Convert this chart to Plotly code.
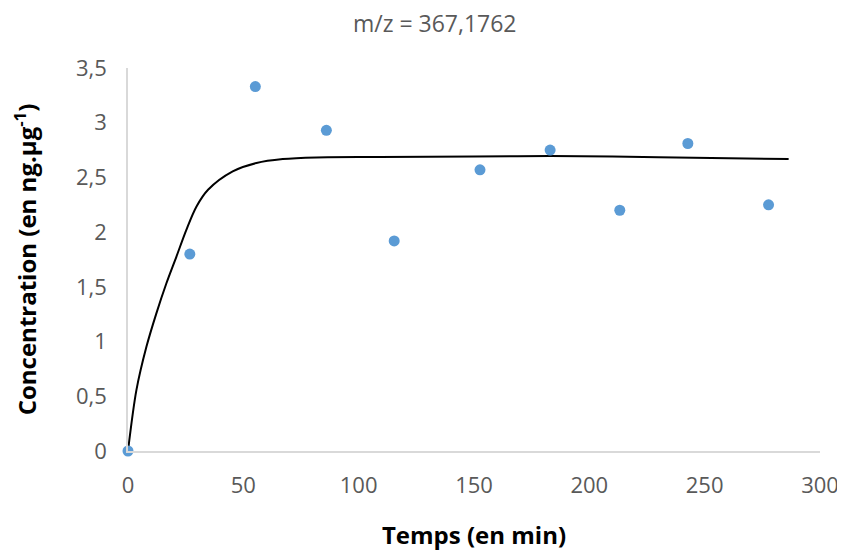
import plotly.graph_objects as go

# Measured points
temps = [0, 26.8, 55.2, 86.0, 115.4, 152.6, 183.0, 213.2, 242.7, 277.7]
concentration = [0, 1.80, 3.33, 2.93, 1.92, 2.57, 2.75, 2.20, 2.81, 2.25]

# Fitted curve
fit_temps = [0, 3.64, 7.98, 12.3, 16.65, 21.0, 25.3, 29.7, 34.7, 45.4, 55.7, 67.1, 81.7, 109, 150, 183, 230, 286.4]
fit_conc = [0, 0.556, 0.952, 1.258, 1.533, 1.777, 2.021, 2.234, 2.387, 2.555, 2.632, 2.668, 2.683, 2.687, 2.692, 2.695, 2.685, 2.668]

x_ticks = [0, 50, 100, 150, 200, 250, 300]
y_ticks = [0, 0.5, 1, 1.5, 2, 2.5, 3, 3.5]
y_tick_labels = ["0", "0,5", "1", "1,5", "2", "2,5", "3", "3,5"]

gray = "#595959"
font = "Open Sans"

fig = go.Figure()
fig.add_trace(go.Scatter(
    x=fit_temps, y=fit_conc, mode="lines",
    line=dict(color="#000000", width=2, shape="spline", smoothing=0.9),
    cliponaxis=False, showlegend=False, hoverinfo="skip"))
fig.add_trace(go.Scatter(
    x=temps, y=concentration, mode="markers",
    marker=dict(color="#5b9bd5", size=11, line=dict(width=0)),
    cliponaxis=False, showlegend=False))

fig.update_layout(
    width=845, height=553,
    margin=dict(l=120, r=33, t=60, b=110, autoexpand=False),
    paper_bgcolor="white", plot_bgcolor="white",
    title=dict(text="m/z = 367,1762", x=0.505, xanchor="center", y=0.971, yanchor="middle",
               font=dict(family=font, size=23, color=gray)),
    font=dict(family=font, color=gray),
)
fig.update_xaxes(
    range=[0, 300], tickvals=x_ticks, ticktext=[str(v) for v in x_ticks],
    showgrid=False, zeroline=False, showline=True, linecolor="#d9d9d9", linewidth=1.5,
    ticks="", ticklabelstandoff=14, automargin=False,
    tickfont=dict(family=font, size=22, color=gray),
    title=dict(text="<b>Temps (en min)</b>", standoff=29,
               font=dict(family=font, size=24, color="#000000")),
)
fig.update_yaxes(
    range=[0, 3.5], tickvals=y_ticks, ticktext=y_tick_labels,
    showgrid=False, zeroline=False, showline=True, linecolor="#d9d9d9", linewidth=1.5,
    ticks="", ticklabelstandoff=15, automargin=False,
    tickfont=dict(family=font, size=22, color=gray),
    title=dict(text="<b>Concentration (en ng.µg<sup>-1</sup>)</b>", standoff=33,
               font=dict(family=font, size=24, color="#000000")),
)

fig.write_html("out.html")
